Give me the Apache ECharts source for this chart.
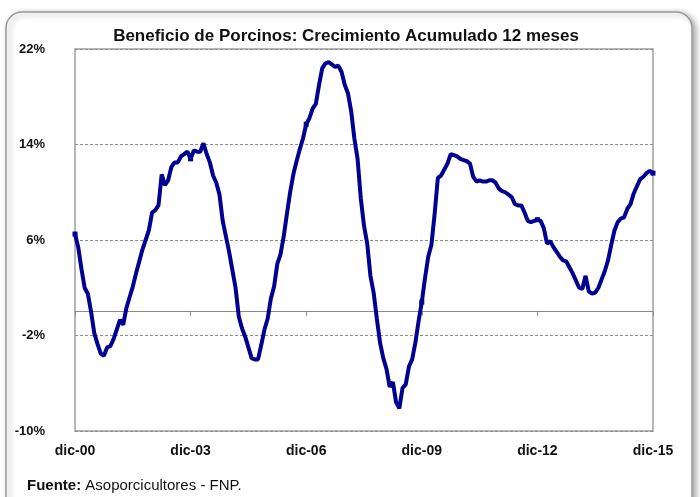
<!DOCTYPE html>
<html>
<head>
<meta charset="utf-8">
<script src="https://cdn.jsdelivr.net/npm/echarts@6/dist/echarts.min.js"></script>
<style>
  html, body { margin: 0; padding: 0; background: #fff; }
  #main { width: 700px; height: 497px; }
</style>
</head>
<body>
<div id="main"></div>
<script>
// meses en español, serie mensual dic-00 .. dic-15
var meses = ['ene','feb','mar','abr','may','jun','jul','ago','sep','oct','nov','dic'];
var yTicks = [-10, -2, 6, 14, 22];

// crecimiento acumulado 12 meses (%)
var crecimiento = [
  6.5, 5.4, 3.6, 2.0, 1.5, 0.0, -1.8, -2.7, -3.5, -3.7, -3.0, -2.9,
  -2.3, -1.5, -0.7, -1.1, 0.3, 1.2, 2.1, 3.2, 4.2, 5.2, 6.0, 6.8,
  8.3, 8.5, 8.9, 11.5, 10.6, 11.0, 12.1, 12.5, 12.5, 13.0, 13.2, 13.4,
  12.8, 13.5, 13.4, 13.4, 14.1, 13.2, 12.5, 11.4, 10.8, 9.8, 7.6, 6.3,
  5.0, 3.5, 2.0, -0.4, -1.4, -2.1, -3.0, -3.9, -4.0, -4.0, -2.8, -1.5,
  -0.6, 1.1, 2.1, 4.0, 4.8, 6.3, 8.2, 10.0, 11.5, 12.6, 13.6, 14.5,
  15.7, 16.2, 17.0, 17.4, 19.0, 20.4, 20.8, 20.9, 20.7, 20.5, 20.6, 20.1,
  19.0, 18.3, 16.8, 14.5, 12.8, 9.5, 7.2, 5.7, 3.0, 1.6, -0.6, -2.6,
  -3.9, -4.8, -6.3, -5.9, -7.6, -8.1, -6.4, -6.1, -4.6, -4.0, -2.6, -0.8,
  0.8, 2.8, 4.6, 5.6, 8.2, 11.2, 11.4, 11.9, 12.4, 13.2, 13.1, 13.0,
  12.8, 12.7, 12.6, 12.4, 11.3, 10.9, 11.0, 10.9, 10.9, 11.0, 11.0, 10.8,
  10.3, 10.1, 10.0, 9.8, 9.6, 9.0, 8.9, 8.9, 8.3, 7.6, 7.5, 7.6,
  7.7, 7.6, 7.0, 5.7, 5.9, 5.4, 5.0, 4.6, 4.3, 4.2, 3.7, 3.2,
  2.6, 2.0, 1.9, 3.0, 1.7, 1.5, 1.6, 2.0, 2.7, 3.4, 4.3, 5.6,
  6.8, 7.5, 7.8, 7.9, 8.6, 9.0, 9.9, 10.5, 11.1, 11.3, 11.6, 11.8,
  11.6
];

// etiquetas de categoría: dic-00 ... dic-15
var categorias = ['dic-00'];
for (var a = 1; a <= 15; a++) {
  for (var m = 0; m < 12; m++) {
    categorias.push(meses[m] + '-' + (a < 10 ? '0' + a : '' + a));
  }
}

var myChart = echarts.init(document.getElementById('main'));
myChart.setOption({
  animation: false,
  backgroundColor: '#fff',
  textStyle: { fontFamily: 'Liberation Sans, Arial, sans-serif' },
  title: {
    text: 'Beneficio de Porcinos: Crecimiento Acumulado 12 meses',
    left: 341,
    top: 23,
    textAlign: 'center',
    textStyle: { fontSize: 17, fontWeight: 'bold', color: '#111' }
  },
  graphic: [
    {
      type: 'rect',
      z: -100,
      shape: { x: 6, y: 12, width: 686, height: 520, r: 16 },
      style: {
        fill: '#fff',
        stroke: '#9a9a9a',
        lineWidth: 1.5,
        shadowBlur: 6,
        shadowOffsetX: 3,
        shadowOffsetY: 2,
        shadowColor: 'rgba(0,0,0,0.35)'
      }
    },
    {
      type: 'text',
      left: 27,
      top: 478,
      style: {
        text: '{b|Fuente:} Asoporcicultores - FNP.',
        rich: {
          b: { fontWeight: 'bold', fontSize: 15, fill: '#111', fontFamily: 'Liberation Sans' }
        },
        fontSize: 15,
        fill: '#111',
        fontFamily: 'Liberation Sans'
      }
    }
  ],
  grid: {
    left: 75,
    right: 47,
    top: 49,
    bottom: 66,
    show: true,
    borderColor: '#9e9e9e',
    borderWidth: 1.5,
    backgroundColor: 'transparent'
  },
  xAxis: [
    {
      type: 'category',
      data: categorias,
      boundaryGap: false,
      axisLine: { show: false, onZero: false },
      axisTick: { show: false },
      axisLabel: {
        interval: 35,
        margin: 13,
        fontSize: 14,
        fontWeight: 'bold',
        color: '#111'
      },
      splitLine: { show: false }
    },
    {
      type: 'category',
      data: categorias,
      position: 'top',
      boundaryGap: false,
      axisLine: { show: true, onZero: true, lineStyle: { color: '#8a8a8a', width: 1.2 } },
      axisTick: { show: true, inside: true, interval: 35, length: 4, lineStyle: { color: '#8a8a8a' } },
      axisLabel: { show: false },
      splitLine: { show: false }
    }
  ],
  yAxis: {
    type: 'value',
    min: yTicks[0],
    max: yTicks[yTicks.length - 1],
    interval: 8,
    axisLine: { show: false },
    axisTick: { show: false },
    axisLabel: {
      formatter: '{value}%',
      margin: 30,
      fontSize: 13,
      fontWeight: 'bold',
      color: '#111'
    },
    splitLine: {
      show: true,
      lineStyle: { color: '#8c8c8c', type: [3, 2], width: 1 }
    }
  },
  series: [
    {
      type: 'line',
      xAxisIndex: 0,
      data: crecimiento,
      symbol: 'rect',
      symbolSize: 5,
      showSymbol: true,
      itemStyle: { color: '#000091' },
      lineStyle: { color: '#000091', width: 4 },
      z: 5
    }
  ]
});
</script>
</body>
</html>
